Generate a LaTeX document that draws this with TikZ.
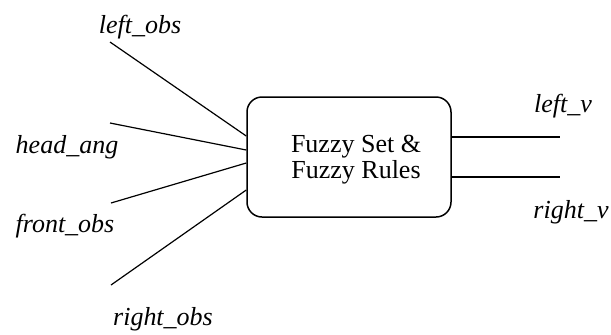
\documentclass[tikz,border=0pt]{standalone}
\usepackage{fontspec}
\setmainfont{Liberation Serif}
\begin{document}
\begin{tikzpicture}[x=0.5pt,y=-0.5pt,
  fuzzybox/.style={draw,rounded corners=7.5pt,line width=0.75pt,minimum width=102pt,minimum height=60pt,inner sep=0pt},
  lbl/.style={font=\fontsize{13}{13}\selectfont\itshape,anchor=base,inner sep=0pt},
  wire/.style={line width=0.6pt}]
\useasboundingbox (0,0) rectangle (611,334);
\node[fuzzybox] (fz) at (349,157) {};
\node[font=\fontsize{13}{13}\selectfont,align=center,anchor=base,inner sep=0pt] (fztext) at (356,178) {Fuzzy Set \&\\Fuzzy Rules};
% input ends
\coordinate (lo) at (110,42);
\coordinate (ha) at (110,123);
\coordinate (fo) at (111,203);
\coordinate (ro) at (111,285);
\coordinate (lv) at (560,137);
\coordinate (rv) at (560,177);
\draw[wire] (lo) -- ([yshift=10.5pt]fz.west);
\draw[wire] (ha) -- ([yshift=3.5pt]fz.west);
\draw[wire] (fo) -- ([yshift=-3pt]fz.west);
\draw[wire] (ro) -- ([yshift=-16.5pt]fz.west);
\draw[wire] ([yshift=10pt]fz.east) -- (lv);
\draw[wire] ([yshift=-10pt]fz.east) -- (rv);
\node[lbl] (llo) at (140,33) {left\_obs};
\node[lbl] (lha) at (67,153) {head\_ang};
\node[lbl] (lfo) at (65,232) {front\_obs};
\node[lbl] (lro) at (163,325) {right\_obs};
\node[lbl] (llv) at (563,112) {left\_v};
\node[lbl] (lrv) at (571,218) {right\_v};
\end{tikzpicture}
\end{document}
